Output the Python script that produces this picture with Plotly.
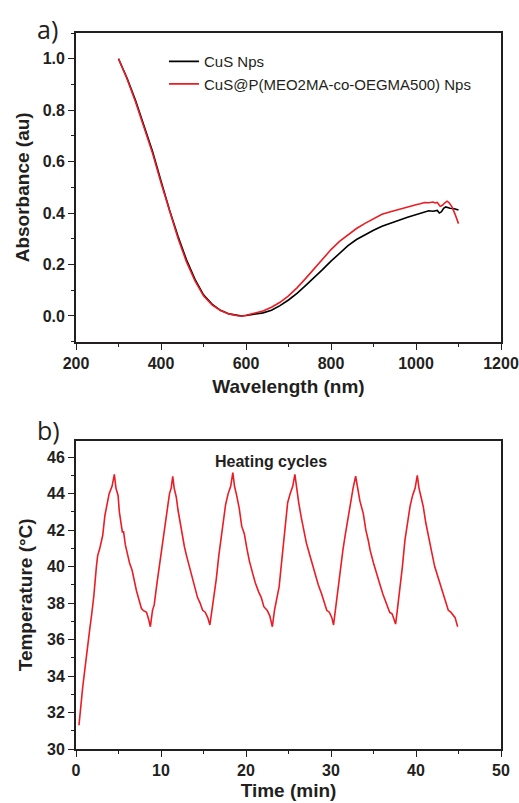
import plotly.graph_objects as go

# ---------------- data: panel a) absorbance spectra ----------------
wavelength_black = [300, 320, 340, 360, 380, 400, 420, 440, 460, 480, 500, 520, 540, 560, 580, 590,
                    600, 620, 640, 660, 680, 700, 720, 740, 760, 780, 800, 820, 840, 860, 880, 900,
                    920, 940, 960, 980, 1000, 1010, 1020, 1030, 1040, 1050, 1055, 1060, 1065, 1070,
                    1080, 1090, 1100]
absorb_black = [1.000, 0.925, 0.838, 0.738, 0.640, 0.525, 0.412, 0.310, 0.218, 0.142, 0.082, 0.046,
                0.022, 0.008, 0.001, 0.000, 0.002, 0.006, 0.012, 0.022, 0.040, 0.062, 0.088, 0.118,
                0.148, 0.180, 0.213, 0.243, 0.273, 0.297, 0.316, 0.333, 0.349, 0.362, 0.372, 0.384,
                0.394, 0.400, 0.405, 0.409, 0.407, 0.410, 0.400, 0.405, 0.418, 0.424, 0.419, 0.417,
                0.412]

wavelength_red = [300, 320, 340, 360, 380, 400, 420, 440, 460, 480, 500, 520, 540, 560, 580, 590,
                  600, 620, 640, 660, 680, 700, 720, 740, 760, 780, 800, 820, 840, 860, 880, 900,
                  920, 940, 960, 980, 1000, 1010, 1020, 1030, 1040, 1045, 1050, 1057, 1062, 1068,
                  1073, 1078, 1085, 1092, 1100]
absorb_red = [1.000, 0.922, 0.833, 0.733, 0.633, 0.518, 0.405, 0.302, 0.210, 0.136, 0.078, 0.043,
              0.021, 0.008, 0.001, 0.000, 0.003, 0.010, 0.019, 0.034, 0.053, 0.078, 0.109, 0.145,
              0.184, 0.221, 0.258, 0.290, 0.316, 0.340, 0.360, 0.378, 0.395, 0.405, 0.415, 0.424,
              0.432, 0.436, 0.441, 0.440, 0.443, 0.439, 0.441, 0.426, 0.430, 0.440, 0.446, 0.440,
              0.423, 0.395, 0.359]

legend_names = ["CuS Nps", "CuS@P(MEO2MA-co-OEGMA500) Nps"]

# ---------------- data: panel b) heating cycles ----------------
time_min = [
    0.35, 0.55, 0.79, 1.0, 1.33, 1.6, 1.85, 2.1, 2.4, 2.55, 2.8, 3.14, 3.4, 3.73, 3.9, 4.24, 4.51,
    4.7, 4.95, 5.1, 5.45, 5.6, 5.8, 6.1, 6.3, 6.6, 6.9, 7.1, 7.4, 7.7, 7.9, 8.3, 8.55, 8.75,
    9.0, 9.2, 9.5, 9.8, 10.0, 10.2, 10.5, 10.8, 11.0, 11.2, 11.38,
    11.55, 11.8, 12.0, 12.3, 12.5, 12.75, 13.0, 13.3, 13.6, 13.9, 14.3, 14.6, 14.9, 15.2, 15.5, 15.75,
    16.0, 16.2, 16.5, 16.8, 17.0, 17.3, 17.6, 17.9, 18.2, 18.45,
    18.65, 18.9, 19.2, 19.5, 19.8, 20.1, 20.4, 20.8, 21.1, 21.5, 21.8, 22.1, 22.5, 22.8, 23.1,
    23.35, 23.6, 23.9, 24.2, 24.5, 24.7, 24.9, 25.2, 25.5, 25.75,
    25.95, 26.2, 26.5, 26.8, 27.1, 27.4, 27.8, 28.1, 28.5, 28.9, 29.2, 29.5, 29.8, 30.1, 30.3,
    30.5, 30.8, 31.1, 31.4, 31.7, 32.0, 32.3, 32.6, 32.9,
    33.1, 33.4, 33.8, 34.1, 34.4, 34.6, 35.0, 35.35, 35.7, 36.1, 36.5, 36.9, 37.2, 37.4, 37.6,
    37.8, 38.1, 38.4, 38.7, 39.0, 39.3, 39.6, 39.9, 40.15,
    40.35, 40.6, 40.85, 41.15, 41.45, 41.8, 42.2, 42.6, 43.0, 43.4, 43.8, 44.1, 44.4, 44.6, 44.9]
temperature_c = [
    31.3, 32.4, 33.4, 34.2, 35.6, 36.5, 37.4, 38.4, 40.0, 40.6, 41.0, 41.7, 42.8, 43.7, 44.0, 44.4, 45.05,
    44.3, 43.9, 43.0, 41.9, 41.9, 41.2, 40.6, 40.2, 39.8, 39.0, 38.7, 38.2, 37.7, 37.6, 37.5, 37.1, 36.7,
    37.6, 37.9, 39.0, 40.0, 40.9, 41.4, 42.6, 43.6, 44.0, 44.3, 44.95,
    44.3, 43.8, 43.1, 42.2, 41.8, 41.1, 40.6, 40.1, 39.5, 39.0, 38.3, 38.0, 37.6, 37.5, 37.2, 36.8,
    37.6, 38.2, 39.3, 40.6, 41.3, 42.5, 43.4, 44.0, 44.4, 45.15,
    44.4, 43.9, 43.2, 42.2, 41.8, 41.0, 40.3, 39.6, 39.1, 38.6, 38.3, 37.8, 37.6, 37.3, 36.7,
    37.6, 38.2, 38.9, 40.3, 41.7, 42.6, 43.5, 44.0, 44.4, 45.05,
    44.3, 43.5, 42.7, 41.9, 41.3, 40.8, 40.1, 39.6, 39.0, 38.5, 38.0, 37.6, 37.5, 37.2, 36.8,
    37.6, 38.7, 39.8, 40.9, 41.8, 42.7, 43.6, 44.3, 44.95,
    44.3, 43.6, 42.9, 42.0, 41.4, 40.9, 40.2, 39.6, 39.1, 38.5, 38.0, 37.5, 37.4, 37.1, 36.85,
    37.6, 38.7, 40.0, 41.45, 42.4, 43.3, 43.9, 44.3, 45.0,
    44.3, 43.8, 43.3, 42.4, 41.6, 40.9, 40.0, 39.4, 38.7, 38.2, 37.6, 37.5, 37.3, 37.2, 36.7]

# ---------------- styling ----------------
FONT = "Liberation Sans, Arial, sans-serif"
AXC = "#231f20"
RED = "#ec1c24"

fig = go.Figure()
fig.add_trace(go.Scatter(x=wavelength_black, y=absorb_black, mode="lines", name=legend_names[0],
                         line=dict(color="#000000", width=1.6), xaxis="x", yaxis="y"))
fig.add_trace(go.Scatter(x=wavelength_red, y=absorb_red, mode="lines", name=legend_names[1],
                         line=dict(color=RED, width=1.6), xaxis="x", yaxis="y"))
fig.add_trace(go.Scatter(x=time_min, y=temperature_c, mode="lines", showlegend=False,
                         line=dict(color=RED, width=1.6), xaxis="x2", yaxis="y2"))

tickfont = dict(family=FONT, size=16, color=AXC, weight="bold")
titlefont = dict(family=FONT, size=19, color=AXC, weight="bold")


def main_axis(rng, dtick, minor_dtick, title, standoff, anchor, domain=None, fmt=None, tick0=None):
    d = dict(range=rng, dtick=dtick, tick0=tick0 if tick0 is not None else rng[0],
             ticks="outside", ticklen=6, tickwidth=1.3, tickcolor=AXC,
             showline=True, linecolor=AXC, linewidth=1.8, mirror=True,
             showgrid=False, zeroline=False, automargin=False,
             tickfont=tickfont,
             title=dict(text=title, font=titlefont, standoff=standoff),
             minor=dict(ticks="outside", dtick=minor_dtick, ticklen=3.5, tickwidth=1.2,
                        tickcolor=AXC, showgrid=False),
             anchor=anchor)
    if domain is not None:
        d["domain"] = domain
    if fmt:
        d["tickformat"] = fmt
    return d


def mirror_axis(rng, dtick, minor_dtick, overlay, side, anchor, tick0=None):
    return dict(range=rng, dtick=dtick, tick0=tick0 if tick0 is not None else rng[0],
                overlaying=overlay, side=side, anchor=anchor,
                ticks="inside", ticklen=6, tickwidth=1.3, tickcolor=AXC,
                showticklabels=False, showline=False, showgrid=False, zeroline=False,
                automargin=False,
                minor=dict(ticks="inside", dtick=minor_dtick, ticklen=3.5, tickwidth=1.2,
                           tickcolor=AXC, showgrid=False))


top_dom = [0.5689, 1.0]
bot_dom = [0.0, 0.4306]

fig.update_layout(
    width=519, height=803,
    margin=dict(l=76, r=18, t=33, b=54),
    paper_bgcolor="white", plot_bgcolor="white",
    template="none",
    xaxis=main_axis([200, 1200], 200, 100, "Wavelength (nm)", 9, "y", domain=[0, 1]),
    yaxis=main_axis([-0.1, 1.1], 0.2, 0.1, "Absorbance (au)", 8, "x", domain=top_dom,
                    fmt=".1f", tick0=0),
    xaxis2=main_axis([0, 50], 10, 5, "Time (min)", 6, "y2", domain=[0, 1]),
    yaxis2=main_axis([30, 46.9], 2, 1, "Temperature (\u00b0C)", 9, "x2", domain=bot_dom,
                     tick0=30),
    xaxis3=mirror_axis([200, 1200], 200, 100, "x", "top", "y"),
    yaxis3=mirror_axis([-0.1, 1.1], 0.2, 0.1, "y", "right", "x", tick0=0),
    xaxis4=mirror_axis([0, 50], 10, 5, "x2", "top", "y2"),
    yaxis4=mirror_axis([30, 46.9], 2, 1, "y2", "right", "x2", tick0=30),
    legend=dict(x=0.207, y=0.983, xanchor="left", yanchor="top",
                bgcolor="rgba(0,0,0,0)", borderwidth=0,
                font=dict(family=FONT, size=15, color=AXC), tracegroupgap=0),
    showlegend=True,
    annotations=[
        dict(text="a)", xref="paper", yref="paper", x=-0.0965, y=1.0056,
             xanchor="left", yanchor="middle", showarrow=False,
             font=dict(family="Open Sans, Noto Sans, sans-serif", size=25, color=AXC)),
        dict(text="b)", xref="paper", yref="paper", x=-0.0965, y=0.4455,
             xanchor="left", yanchor="middle", showarrow=False,
             font=dict(family="Open Sans, Noto Sans, sans-serif", size=25, color=AXC)),
        dict(text="Heating cycles", xref="x2", yref="y2", x=22.96, y=45.78,
             xanchor="center", yanchor="middle", showarrow=False,
             font=dict(family=FONT, size=16, color=AXC, weight="bold")),
    ],
)

fig.write_html("out.html")
